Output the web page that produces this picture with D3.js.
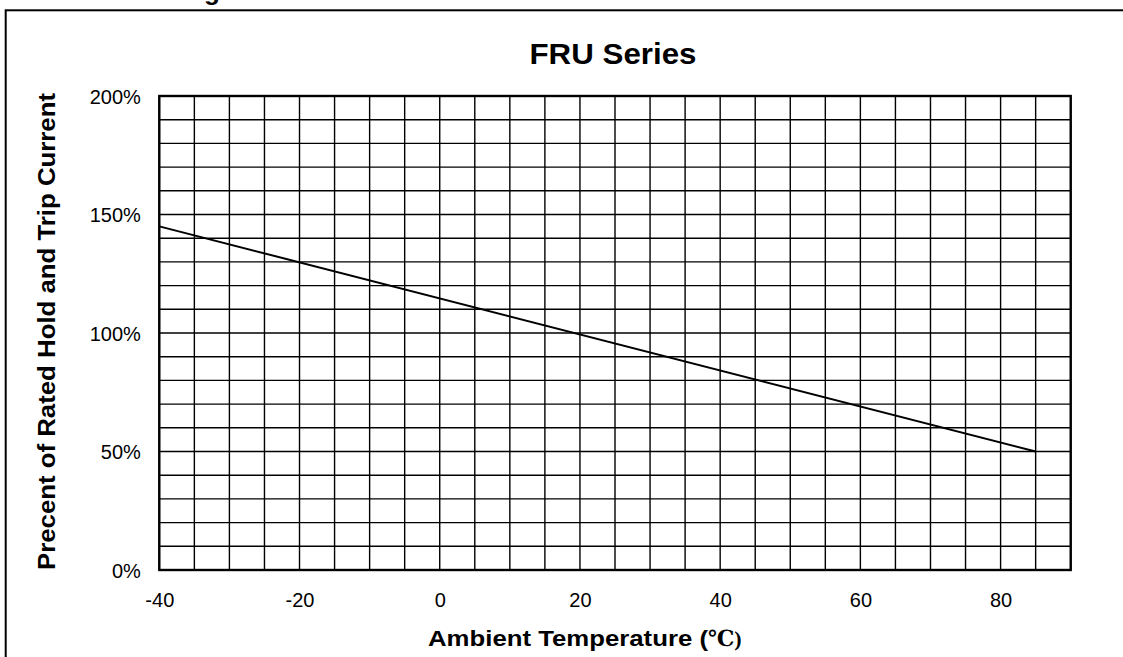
<!DOCTYPE html>
<html>
<head>
<meta charset="utf-8">
<script src="https://cdn.jsdelivr.net/npm/d3@7"></script>
<style>
  html, body { margin: 0; padding: 0; background: #fff; }
  svg { display: block; }
  text { font-family: Arial, "Liberation Sans", sans-serif; fill: #000; }
</style>
</head>
<body>
<svg id="chart" width="1123" height="657"></svg>
<script>
// ---- data ----
const temperatures = [-40, 85];           // °C
const percentRated = [145, 50];           // % of rated hold/trip current
const xTickValues = [-40, -20, 0, 20, 40, 60, 80];
const yTickValues = [0, 50, 100, 150, 200];
const xGridStep = 5;
const yGridStep = 10;
const chartTitle = "FRU Series";
const pageHeading = "Thermal Derating Curve";
const yTitle = "Precent of Rated Hold and Trip Current";
const xTitleMain = "Ambient Temperature (";
const xTitleUnit = "\u2103)";

// ---- layout ----
const svg = d3.select("#chart");
const plot = { left: 159.3, right: 1070.7, top: 96, bottom: 570 };

const x = d3.scaleLinear().domain([-40, 90]).range([plot.left, plot.right]);
const y = d3.scaleLinear().domain([0, 200]).range([plot.bottom, plot.top]);

// clipped page heading at very top (only descender visible, as in reference)
svg.append("text")
  .attr("x", 6).attr("y", -0.5)
  .style("font-weight", "bold").style("font-size", "26px")
  .text(pageHeading);

// outer frame (extends past right/bottom edges)
svg.append("rect")
  .attr("x", 5.7).attr("y", 10.3)
  .attr("width", 1200).attr("height", 800)
  .attr("fill", "none").attr("stroke", "#000").attr("stroke-width", 2);

// grid
const xGrid = d3.range(-40, 90 + 0.001, xGridStep);
const yGrid = d3.range(0, 200 + 0.001, yGridStep);
const g = svg.append("g");
g.selectAll("line.vx").data(xGrid).join("line")
  .attr("x1", d => x(d)).attr("x2", d => x(d))
  .attr("y1", plot.top).attr("y2", plot.bottom)
  .attr("stroke", "#000").attr("stroke-width", 1.4);
g.selectAll("line.hy").data(yGrid).join("line")
  .attr("y1", d => y(d)).attr("y2", d => y(d))
  .attr("x1", plot.left).attr("x2", plot.right)
  .attr("stroke", "#000").attr("stroke-width", 1.4);
// plot border
svg.append("rect")
  .attr("x", plot.left).attr("y", plot.top)
  .attr("width", plot.right - plot.left).attr("height", plot.bottom - plot.top)
  .attr("fill", "none").attr("stroke", "#000").attr("stroke-width", 2.4);

// axes (labels only)
const xAxis = d3.axisBottom(x).tickValues(xTickValues).tickSize(0).tickPadding(0).tickFormat(d => String(d));
const xa = svg.append("g").attr("transform", `translate(0,${plot.bottom})`).call(xAxis);
xa.select(".domain").remove();
xa.selectAll("text").attr("y", 36.5).attr("dy", null)
  .style("font-size", "20px").style("font-family", "Arial, 'Liberation Sans', sans-serif");

const yAxis = d3.axisLeft(y).tickValues(yTickValues).tickSize(0).tickPadding(0).tickFormat(d => d + "%");
const ya = svg.append("g").attr("transform", `translate(${plot.left},0)`).call(yAxis);
ya.select(".domain").remove();
ya.selectAll("text").attr("x", -18.5).attr("dy", "0.35em")
  .style("font-size", "20px").style("font-family", "Arial, 'Liberation Sans', sans-serif");

// data line
const pts = temperatures.map((t, i) => [t, percentRated[i]]);
svg.append("path")
  .attr("d", d3.line().x(d => x(d[0])).y(d => y(d[1]))(pts))
  .attr("fill", "none").attr("stroke", "#000").attr("stroke-width", 2);

// chart title
svg.append("text")
  .attr("x", 529.5).attr("y", 64)
  .attr("textLength", 167).attr("lengthAdjust", "spacingAndGlyphs")
  .style("font-weight", "bold").style("font-size", "29px")
  .text(chartTitle);

// y title
svg.append("text")
  .attr("transform", "translate(55,570) rotate(-90)")
  .attr("x", 0).attr("y", 0)
  .attr("textLength", 477).attr("lengthAdjust", "spacingAndGlyphs")
  .style("font-weight", "bold").style("font-size", "24px")
  .text(yTitle);

// x title
const xt = svg.append("text").attr("x", 428).attr("y", 645.5)
  .style("font-weight", "bold").style("font-size", "22px");
xt.append("tspan").attr("textLength", 280).attr("lengthAdjust", "spacingAndGlyphs").text(xTitleMain);
xt.append("tspan").style("font-family", "'Liberation Serif', 'DejaVu Serif', serif").text(xTitleUnit);
</script>
</body>
</html>
